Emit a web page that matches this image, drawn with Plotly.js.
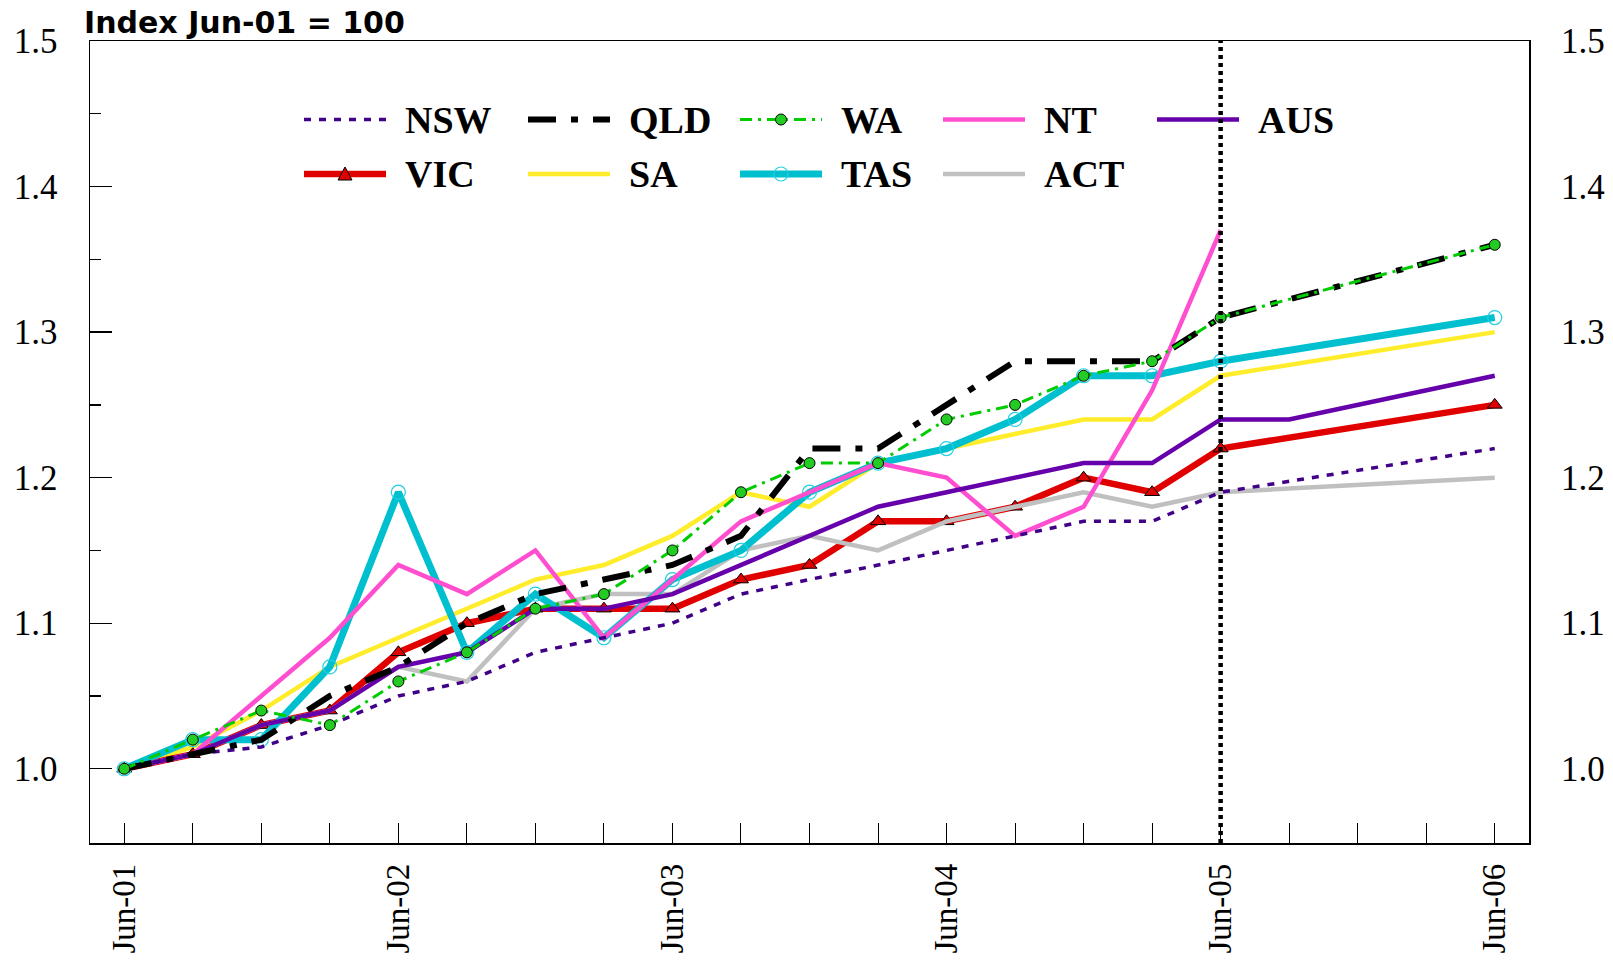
<!DOCTYPE html>
<html>
<head>
<meta charset="utf-8">
<script src="https://cdn.plot.ly/plotly-3.0.1.min.js"></script>
<style>
  html, body { margin: 0; padding: 0; background: #ffffff; }
  #chart { width: 1613px; height: 963px; }
</style>
</head>
<body>
<div id="chart"></div>
<script>
// ---------------- DATA ----------------
const quarters = ['Jun-01','Sep-01','Dec-01','Mar-02','Jun-02','Sep-02','Dec-02','Mar-03','Jun-03','Sep-03','Dec-03',
                  'Mar-04','Jun-04','Sep-04','Dec-04','Mar-05','Jun-05','Sep-05','Dec-05','Mar-06','Jun-06'];

const NSW = [1.00, 1.01, 1.015, 1.03, 1.05, 1.06, 1.08, 1.09, 1.10, 1.12, 1.13, 1.14, 1.15, 1.16, 1.17, 1.17, 1.19, null, null, null, 1.22];
const VIC = [1.00, 1.01, 1.03, 1.04, 1.08, 1.10, 1.11, 1.11, 1.11, 1.13, 1.14, 1.17, 1.17, 1.18, 1.20, 1.19, 1.22, null, null, null, 1.25];
const QLD = [1.00, 1.01, 1.02, 1.05, 1.07, 1.10, 1.12, 1.13, 1.14, 1.16, 1.22, 1.22, 1.25, 1.28, 1.28, 1.28, 1.31, null, null, null, 1.36];
const SA  = [1.00, 1.015, 1.04, 1.07, 1.09, 1.11, 1.13, 1.14, 1.16, 1.19, 1.18, 1.21, 1.22, 1.23, 1.24, 1.24, 1.27, null, null, null, 1.30];
const WA  = [1.00, 1.02, 1.04, 1.03, 1.06, 1.08, 1.11, 1.12, 1.15, 1.19, 1.21, 1.21, 1.24, 1.25, 1.27, 1.28, 1.31, null, null, null, 1.36];
const TAS = [1.00, 1.02, 1.02, 1.07, 1.19, 1.08, 1.12, 1.09, 1.13, 1.15, 1.19, 1.21, 1.22, 1.24, 1.27, 1.27, 1.28, null, null, null, 1.31];
const NT  = [1.00, 1.01, 1.05, 1.09, 1.14, 1.12, 1.15, 1.09, 1.13, 1.17, 1.19, 1.21, 1.20, 1.16, 1.18, 1.26, 1.37, null, null, null, null];
const ACT = [1.00, 1.01, 1.03, 1.04, 1.07, 1.06, 1.11, 1.12, 1.12, 1.15, 1.16, 1.15, 1.17, 1.18, 1.19, 1.18, 1.19, null, null, null, 1.20];
const AUS = [1.00, 1.01, 1.03, 1.04, 1.07, 1.08, 1.11, 1.11, 1.12, 1.14, 1.16, 1.18, 1.19, 1.20, 1.21, 1.21, 1.24, 1.24, null, null, 1.27];

const seriesNames = ['NSW','VIC','QLD','SA','WA','TAS','NT','ACT','AUS'];
const seriesValues = {NSW, VIC, QLD, SA, WA, TAS, NT, ACT, AUS};

const yTickVals = [1.0, 1.1, 1.2, 1.3, 1.4, 1.5];
const yTickText = ['1.0', '1.1', '1.2', '1.3', '1.4', '1.5'];
const yMinorTickVals = [1.05, 1.15, 1.25, 1.35, 1.45];
const xTickText = quarters.map(q => q.startsWith('Jun') ? q : '');
const markerQuarter = 'Jun-05';
const indexLabel = 'Index Jun-01 = 100';

// legend layout: two rows
const legendRows = [['NSW','QLD','WA','NT','AUS'], ['VIC','SA','TAS','ACT']];

// ---------------- STYLE ----------------
const W = 1613, H = 963;
const M = {l: 90, r: 84, t: 41, b: 120};
const PW = W - M.l - M.r, PH = H - M.t - M.b;
const yRange = [0.949, 1.5];

const styles = {
  NSW: {color: '#400088', width: 3.5, dash: '7px,8px'},
  VIC: {color: '#e00000', width: 6.5, dash: 'solid', marker: {symbol: 'triangle-up', size: 13, color: '#e00000', line: {color: '#000', width: 1}}},
  QLD: {color: '#000000', width: 6,   dash: '28px,15px,7px,15px'},
  SA:  {color: '#ffec2a', width: 4.5, dash: 'solid'},
  WA:  {color: '#00cc00', width: 3,   dash: '12px,6px,3px,6px', marker: {symbol: 'circle', size: 11, color: '#22cc22', line: {color: '#000', width: 1}}},
  TAS: {color: '#00c0d0', width: 7,   dash: 'solid', marker: {symbol: 'circle-open', size: 14, color: '#22d0e0', line: {width: 1.2}}},
  NT:  {color: '#ff4fd0', width: 4.5, dash: 'solid'},
  ACT: {color: '#c0c0c0', width: 4.5, dash: 'solid'},
  AUS: {color: '#6600aa', width: 4.5, dash: 'solid'}
};
const drawOrder = ['SA','VIC','ACT','TAS','NT','AUS','NSW','QLD','WA'];

const serif = 'Liberation Serif';

const traces = drawOrder.map(name => {
  const s = styles[name];
  const t = {
    type: 'scatter',
    name: name,
    x: quarters,
    y: seriesValues[name],
    connectgaps: true,
    mode: s.marker ? 'lines+markers' : 'lines',
    line: {color: s.color, width: s.width, dash: s.dash},
    hoverinfo: 'skip',
    showlegend: false
  };
  if (s.marker) t.marker = s.marker;
  return t;
});

// carrier trace (draws nothing) so that the right-hand label axis is rendered
traces.push({type: 'scatter', x: quarters, y: AUS, yaxis: 'y2', mode: 'none',
  hoverinfo: 'skip', showlegend: false});

// ---------------- LEGEND (drawn as shapes + text) ----------------
const colStart = [304, 528, 740, 943, 1157];
const rowY = [119.5, 174];
const sampleLen = 82, textOffset = 99;
const pxX = p => (p - M.l) / PW;
const pxY = p => 1 - (p - M.t) / PH;

const shapes = [];
const annotations = [];

legendRows.forEach((row, r) => {
  row.forEach((name, c) => {
    const s = styles[name];
    const x0 = colStart[c], y = rowY[r];
    shapes.push({type: 'line', xref: 'paper', yref: 'paper',
      x0: pxX(x0), x1: pxX(x0 + sampleLen), y0: pxY(y), y1: pxY(y),
      line: {color: s.color, width: s.width, dash: s.dash}, layer: 'above'});
    if (s.marker) {
      const cx = pxX(x0 + sampleLen / 2), cy = pxY(y);
      if (s.marker.symbol === 'triangle-up') {
        shapes.push({type: 'path', xref: 'paper', yref: 'paper', xsizemode: 'pixel', ysizemode: 'pixel',
          xanchor: cx, yanchor: cy, path: 'M-7,-6L7,-6L0,7Z',
          fillcolor: s.marker.color, line: {color: '#000', width: 1}, layer: 'above'});
      } else if (s.marker.symbol === 'circle') {
        shapes.push({type: 'circle', xref: 'paper', yref: 'paper', xsizemode: 'pixel', ysizemode: 'pixel',
          xanchor: cx, yanchor: cy, x0: -5.5, x1: 5.5, y0: -5.5, y1: 5.5,
          fillcolor: s.marker.color, line: {color: '#000', width: 1}, layer: 'above'});
      } else {
        shapes.push({type: 'circle', xref: 'paper', yref: 'paper', xsizemode: 'pixel', ysizemode: 'pixel',
          xanchor: cx, yanchor: cy, x0: -7, x1: 7, y0: -7, y1: 7,
          fillcolor: 'rgba(0,0,0,0)', line: {color: s.marker.color, width: 1.2}, layer: 'above'});
      }
    }
    annotations.push({xref: 'paper', yref: 'paper', x: pxX(x0 + textOffset), y: pxY(y),
      xanchor: 'left', yanchor: 'middle', showarrow: false, text: name,
      font: {family: serif, size: 38, color: '#000', weight: 'bold'}});
  });
});

// vertical dotted marker line
shapes.push({type: 'line', xref: 'x', yref: 'paper',
  x0: quarters.indexOf(markerQuarter), x1: quarters.indexOf(markerQuarter), y0: 0, y1: 1,
  line: {color: '#000', width: 4.5, dash: '4px,4px'}, layer: 'above'});

annotations.push({xref: 'paper', yref: 'paper', x: pxX(83), y: 1, xanchor: 'left', yanchor: 'bottom',
  showarrow: false, text: indexLabel, yshift: 0, borderpad: 0,
  font: {family: 'DejaVu Sans', size: 30, color: '#000', weight: 'bold'}});

const layout = {
  width: W, height: H,
  margin: {l: M.l, r: M.r, t: M.t, b: M.b, pad: 0},
  paper_bgcolor: '#ffffff', plot_bgcolor: '#ffffff',
  showlegend: false,
  xaxis: {
    type: 'category', categoryorder: 'array', categoryarray: quarters,
    range: [-0.5, quarters.length - 0.5],
    tickmode: 'array', tickvals: quarters, ticktext: xTickText,
    ticks: 'inside', ticklen: 20, tickwidth: 1, tickcolor: '#000',
    tickangle: -90, ticklabelstandoff: 6,
    tickfont: {family: serif, size: 33, color: '#000'},
    showline: true, linecolor: '#000', linewidth: 1.5, mirror: true,
    showgrid: false, zeroline: false, fixedrange: true
  },
  yaxis: {
    range: yRange, tickmode: 'array', tickvals: yTickVals, ticktext: yTickText,
    ticks: 'inside', ticklen: 22, tickwidth: 1.3, tickcolor: '#000',
    minor: {tickmode: 'array', tickvals: yMinorTickVals, ticks: 'inside', ticklen: 11, tickwidth: 1.3, tickcolor: '#000', showgrid: false},
    ticklabelstandoff: 24,
    tickfont: {family: serif, size: 35, color: '#000'},
    showline: true, linecolor: '#000', linewidth: 1.5, mirror: true,
    showgrid: false, zeroline: false, fixedrange: true
  },
  yaxis2: {
    overlaying: 'y', side: 'right', anchor: 'x', range: yRange,
    tickmode: 'array', tickvals: yTickVals, ticktext: yTickText,
    ticks: '', ticklabelstandoff: 31,
    tickfont: {family: serif, size: 35, color: '#000'},
    showline: false, showgrid: false, zeroline: false, fixedrange: true
  },
  shapes: shapes,
  annotations: annotations
};

Plotly.newPlot('chart', traces, layout, {displayModeBar: false, staticPlot: true});
</script>
</body>
</html>
